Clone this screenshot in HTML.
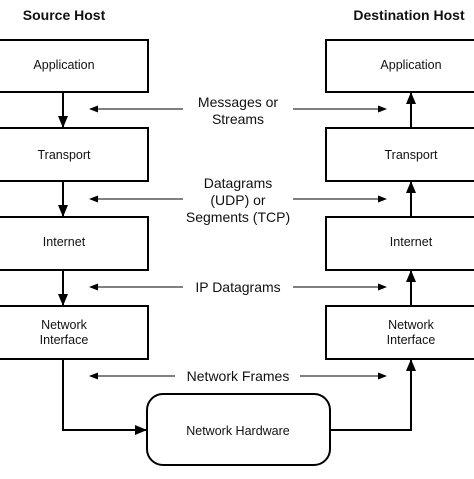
<!DOCTYPE html>
<html><head><style>
html,body{margin:0;padding:0;background:#fff;}
svg text{font-family:"Liberation Sans",Arial,sans-serif;fill:#111;}
</style></head><body>
<svg width="474" height="474" viewBox="0 0 474 474" xmlns="http://www.w3.org/2000/svg">
<defs>
<marker id="a" markerWidth="12" markerHeight="10" refX="11" refY="5" orient="auto" markerUnits="userSpaceOnUse"><path d="M0,0 L12,5 L0,10 z" fill="#000"/></marker>
<marker id="s" markerWidth="9" markerHeight="7" refX="8" refY="3.5" orient="auto" markerUnits="userSpaceOnUse"><path d="M0,0 L9,3.5 L0,7 z" fill="#000"/></marker>
</defs>
<g font-size="14" font-weight="bold" text-anchor="middle">
<text x="64" y="20">Source Host</text>
<text x="409" y="20">Destination Host</text>
</g>
<g fill="none" stroke="#000" stroke-width="2">
<rect x="-2" y="40" width="150" height="52"/>
<rect x="-2" y="128" width="150" height="53"/>
<rect x="-2" y="217" width="150" height="53"/>
<rect x="-2" y="306" width="150" height="53"/>
<rect x="326" y="40" width="152" height="52"/>
<rect x="326" y="128" width="152" height="53"/>
<rect x="326" y="217" width="152" height="53"/>
<rect x="326" y="306" width="152" height="53"/>
<rect x="147" y="394" width="183" height="71" rx="16"/>
<line x1="63" y1="92" x2="63" y2="127" marker-end="url(#a)"/>
<line x1="63" y1="181" x2="63" y2="216" marker-end="url(#a)"/>
<line x1="63" y1="270" x2="63" y2="305" marker-end="url(#a)"/>
<polyline points="63,359 63,430 146,430" marker-end="url(#a)"/>
<line x1="411" y1="128" x2="411" y2="93" marker-end="url(#a)"/>
<line x1="411" y1="217" x2="411" y2="182" marker-end="url(#a)"/>
<line x1="411" y1="306" x2="411" y2="271" marker-end="url(#a)"/>
<polyline points="330,430 411,430 411,360" marker-end="url(#a)"/>
</g>
<g stroke="#000" stroke-width="1" fill="none">
<line x1="183" y1="109" x2="90" y2="109" marker-end="url(#s)"/>
<line x1="293" y1="109" x2="386" y2="109" marker-end="url(#s)"/>
<line x1="183" y1="199" x2="90" y2="199" marker-end="url(#s)"/>
<line x1="293" y1="199" x2="386" y2="199" marker-end="url(#s)"/>
<line x1="183" y1="287" x2="90" y2="287" marker-end="url(#s)"/>
<line x1="293" y1="287" x2="386" y2="287" marker-end="url(#s)"/>
<line x1="175" y1="376" x2="90" y2="376" marker-end="url(#s)"/>
<line x1="300" y1="376" x2="386" y2="376" marker-end="url(#s)"/>
</g>
<g font-size="12.5" text-anchor="middle">
<text x="64" y="69">Application</text>
<text x="64" y="159">Transport</text>
<text x="64" y="246">Internet</text>
<text x="64" y="329">Network</text>
<text x="64" y="344">Interface</text>
<text x="411" y="69">Application</text>
<text x="411" y="159">Transport</text>
<text x="411" y="246">Internet</text>
<text x="411" y="329">Network</text>
<text x="411" y="344">Interface</text>
<text x="238" y="435">Network Hardware</text>
</g>
<g font-size="14" text-anchor="middle">
<text x="238" y="107">Messages or</text>
<text x="238" y="124">Streams</text>
<text x="238" y="188">Datagrams</text>
<text x="238" y="205">(UDP) or</text>
<text x="238" y="222">Segments (TCP)</text>
<text x="238" y="292">IP Datagrams</text>
<text x="238" y="381">Network Frames</text>
</g>
</svg>
</body></html>
